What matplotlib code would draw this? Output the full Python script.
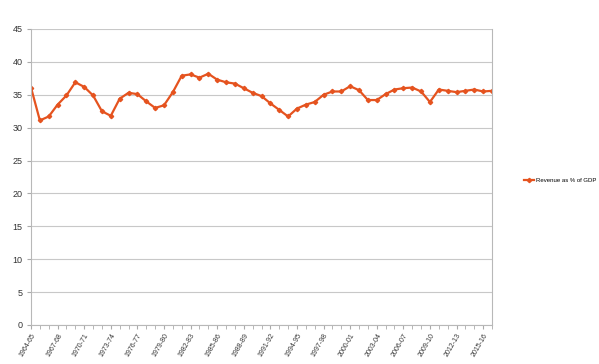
import numpy as np
import matplotlib.pyplot as plt

plt.rcParams['font.family'] = ['Liberation Sans', 'DejaVu Sans']

# fiscal years 1964-65 .. 2016-17
years = ['%d-%02d' % (y, (y + 1) % 100) for y in range(1964, 2017)]
revenue = [36.1, 31.1, 31.7, 33.5, 34.9, 36.9, 36.2, 34.9, 32.5, 31.8,
           34.4, 35.3, 35.1, 34.0, 33.0, 33.4, 35.4, 37.9, 38.1, 37.6,
           38.2, 37.3, 36.9, 36.7, 36.0, 35.3, 34.8, 33.7, 32.7, 31.7,
           32.9, 33.5, 33.9, 35.0, 35.5, 35.5, 36.3, 35.7, 34.2, 34.2,
           35.1, 35.8, 36.0, 36.1, 35.5, 33.9, 35.8, 35.6, 35.4, 35.6,
           35.8, 35.5, 35.6]
yticks = [0, 5, 10, 15, 20, 25, 30, 35, 40, 45]

fig = plt.figure(figsize=(5.99, 3.64), dpi=100)
ax = fig.add_axes([31/599, 39/364, 461/599, 296/364])

x = np.arange(len(years))
ax.plot(x, revenue, color='#e5531f', lw=1.6, marker='D', ms=2.2,
        label='Revenue as % of GDP')

ax.set_xlim(0, len(years) - 1)
ax.set_ylim(0, 45)
ax.set_yticks(yticks)
ax.yaxis.grid(True, color='#c8c8c8', lw=0.8)
ax.set_axisbelow(True)

ax.set_xticks(x, minor=True)
ax.set_xticks(x[::3])
ax.set_xticklabels(years[::3], rotation=60, ha='right', rotation_mode='anchor',
                   fontsize=5, color='#333333')
ax.tick_params(axis='x', which='both', length=3, color='#aaaaaa', pad=2)
ax.tick_params(axis='y', length=3, color='#aaaaaa', labelsize=6.5, labelcolor='#333333', pad=3)

for s in ['left', 'right', 'bottom']:
    ax.spines[s].set_color('#b8b8b8')
    ax.spines[s].set_linewidth(0.8)
ax.spines['top'].set_visible(False)

fig.legend(loc='center left', bbox_to_anchor=(524/599, 0.503), frameon=False,
           fontsize=4.3, handlelength=1.7, handletextpad=0.3,
           borderpad=0, borderaxespad=0)

fig.savefig('out.png', dpi=100)
